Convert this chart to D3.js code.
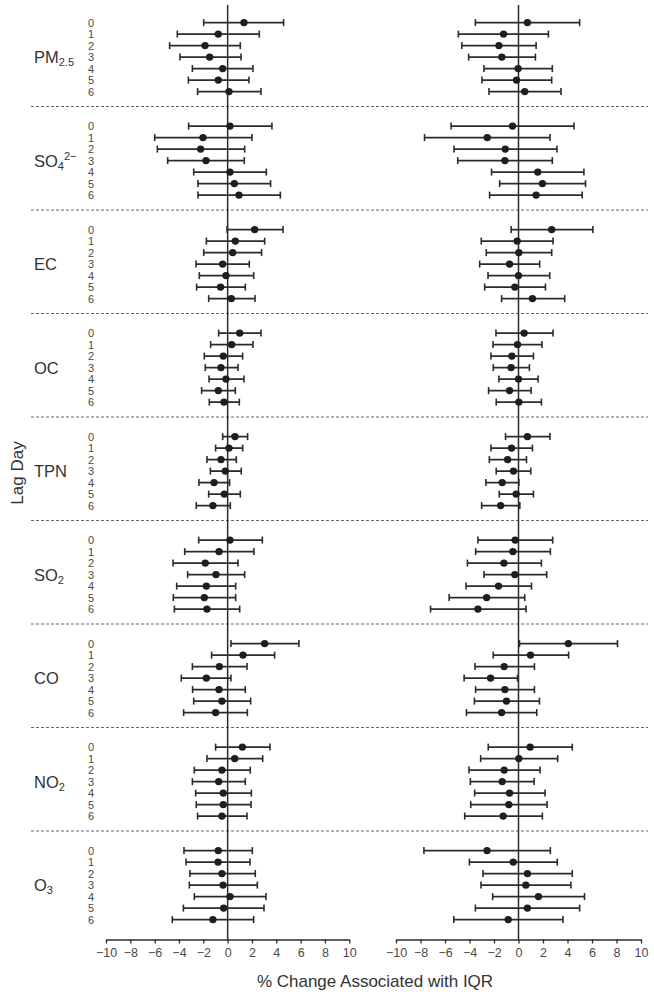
<!DOCTYPE html>
<html>
<head>
<meta charset="utf-8">
<script src="https://cdn.jsdelivr.net/npm/d3@7"></script>
<style>
  html, body { margin: 0; padding: 0; background: #fff; }
  svg { display: block; font-family: "Liberation Sans", Arial, Helvetica, sans-serif; }
</style>
</head>
<body>
<svg id="chart" width="654" height="996"></svg>
<script>
// ---------------- DATA ----------------
const pollutants = ["PM2.5", "SO4", "EC", "OC", "TPN", "SO2", "CO", "NO2", "O3"];
const lags = [0, 1, 2, 3, 4, 5, 6];
const xTicks = [-10, -8, -6, -4, -2, 0, 2, 4, 6, 8, 10];

// Left panel: [estimate, lower, upper] per lag
const leftPM25 = [[1.34,-1.97,4.60],[-0.77,-4.14,2.60],[-1.86,-4.77,1.04],[-1.48,-3.92,1.10],[-0.41,-2.90,2.08],[-0.77,-3.23,1.75],[0.11,-2.47,2.74]];
const leftSO4  = [[0.19,-3.21,3.64],[-2.03,-6.00,2.00],[-2.22,-5.78,1.40],[-1.78,-4.93,1.37],[0.19,-2.79,3.18],[0.55,-2.44,3.53],[0.93,-2.44,4.33]];
const leftEC   = [[2.22,-0.05,4.55],[0.63,-1.75,3.04],[0.41,-1.97,2.79],[-0.41,-2.60,1.78],[-0.14,-2.33,2.14],[-0.58,-2.55,1.45],[0.30,-1.56,2.25]];
const leftOC   = [[0.99,-0.74,2.74],[0.33,-1.40,2.08],[-0.36,-1.92,1.23],[-0.55,-1.84,0.85],[-0.14,-1.53,1.34],[-0.77,-2.14,0.63],[-0.30,-1.51,0.96]];
const leftTPN  = [[0.60,-0.41,1.64],[0.11,-0.99,1.23],[-0.55,-1.70,0.71],[-0.19,-1.42,1.12],[-1.12,-2.36,0.16],[-0.27,-1.56,1.04],[-1.21,-2.58,0.22]];
const leftSO2  = [[0.19,-2.38,2.85],[-0.71,-3.53,2.16],[-1.84,-4.49,0.85],[-0.96,-3.29,1.40],[-1.75,-4.19,0.66],[-1.92,-4.47,0.66],[-1.70,-4.38,0.99]];
const leftCO   = [[3.04,0.27,5.86],[1.26,-1.32,3.86],[-0.68,-2.90,1.59],[-1.75,-3.81,0.27],[-0.71,-2.88,1.45],[-0.47,-2.79,1.89],[-0.99,-3.62,1.62]];
const leftNO2  = [[1.21,-0.99,3.48],[0.58,-1.70,2.88],[-0.47,-2.74,1.86],[-0.74,-2.90,1.45],[-0.36,-2.63,1.95],[-0.36,-2.58,1.92],[-0.47,-2.47,1.59]];
const leftO3   = [[-0.77,-3.59,2.03],[-0.79,-3.42,1.84],[-0.47,-3.10,2.27],[-0.38,-3.15,2.44],[0.19,-2.74,3.15],[-0.33,-3.64,2.99],[-1.21,-4.55,2.14]];

// Right panel
const rightPM25 = [[0.73,-3.52,4.99],[-1.22,-4.91,2.44],[-1.60,-4.63,1.44],[-1.36,-4.07,1.38],[-0.03,-2.82,2.76],[-0.16,-2.98,2.71],[0.51,-2.41,3.47]];
const rightSO4  = [[-0.49,-5.50,4.53],[-2.55,-7.67,2.57],[-1.08,-5.26,3.14],[-1.11,-4.96,2.76],[1.57,-2.20,5.34],[1.95,-1.54,5.47],[1.44,-2.36,5.20]];
const rightEC   = [[2.71,-0.60,6.07],[-0.11,-3.04,2.82],[0.03,-2.63,2.71],[-0.73,-3.17,1.73],[0.00,-2.49,2.55],[-0.30,-2.76,2.20],[1.14,-1.38,3.77]];
const rightOC   = [[0.46,-1.84,2.82],[-0.08,-2.08,1.92],[-0.54,-2.25,1.22],[-0.60,-2.06,0.89],[0.00,-1.60,1.60],[-0.73,-2.44,1.03],[0.03,-1.82,1.87]];
const rightTPN  = [[0.73,-1.06,2.57],[-0.57,-2.25,1.14],[-0.89,-2.38,0.65],[-0.41,-1.82,1.00],[-1.33,-2.66,0.03],[-0.19,-1.57,1.22],[-1.46,-3.01,0.11]];
const rightSO2  = [[-0.27,-3.31,2.79],[-0.46,-3.50,2.60],[-1.19,-4.17,1.87],[-0.30,-2.82,2.30],[-1.63,-4.28,1.06],[-2.60,-5.66,0.51],[-3.31,-7.18,0.62]];
const rightCO   = [[4.07,0.08,8.08],[0.98,-2.06,4.09],[-1.17,-3.55,1.30],[-2.28,-4.44,-0.08],[-1.11,-3.50,1.30],[-0.98,-3.60,1.71],[-1.38,-4.25,1.49]];
const rightNO2  = [[0.95,-2.47,4.39],[0.03,-3.09,3.20],[-1.17,-4.04,1.76],[-1.33,-3.93,1.27],[-0.73,-3.58,2.17],[-0.79,-3.90,2.33],[-1.25,-4.39,1.95]];
const rightO3   = [[-2.57,-7.72,2.60],[-0.43,-4.01,3.17],[0.73,-2.90,4.39],[0.60,-3.06,4.28],[1.63,-2.11,5.39],[0.73,-3.52,4.99],[-0.84,-5.28,3.63]];

const leftSeries  = [leftPM25, leftSO4, leftEC, leftOC, leftTPN, leftSO2, leftCO, leftNO2, leftO3];
const rightSeries = [rightPM25, rightSO4, rightEC, rightOC, rightTPN, rightSO2, rightCO, rightNO2, rightO3];

// ---------------- LAYOUT ----------------
const svg = d3.select("#chart");
const ink = "#2b2b2b";
const grey = "#4a4a4a";

const rowsPerGroup = 9; // 7 lags + 2 spacer rows
const y = d3.scaleLinear().domain([0, 1]).range([22.6, 34.1]); // one row step
const xLeft  = d3.scaleLinear().domain([-10, 10]).range([106, 349.3]);
const xRight = d3.scaleLinear().domain([-10, 10]).range([396, 641]);
const axisY = 939.5;

// dashed separators
const seps = d3.range(pollutants.length - 1);
svg.append("g").selectAll("line").data(seps).join("line")
  .attr("x1", 31).attr("x2", 648)
  .attr("y1", d => y(d * rowsPerGroup + 7.3))
  .attr("y2", d => y(d * rowsPerGroup + 7.3))
  .attr("stroke", "#666").attr("stroke-width", 1.1)
  .attr("stroke-dasharray", "3,2");

// group labels
const labelG = svg.append("g").attr("fill", "#333").attr("font-size", 16.5);
pollutants.forEach((p, i) => {
  const t = labelG.append("text").attr("x", 34).attr("y", y(i * rowsPerGroup + 3) + 6);
  if (p === "PM2.5") {
    t.append("tspan").text("PM");
    t.append("tspan").attr("font-size", 11).attr("dy", 3).text("2.5");
  } else if (p === "SO4") {
    t.append("tspan").text("SO");
    t.append("tspan").attr("font-size", 11).attr("dy", 3).text("4");
    t.append("tspan").attr("font-size", 11).attr("dy", -10).text("2−");
  } else if (p === "SO2" || p === "NO2" || p === "O3") {
    t.append("tspan").text(p.slice(0, -1));
    t.append("tspan").attr("font-size", 11).attr("dy", 3).text(p.slice(-1));
  } else {
    t.text(p);
  }
});

// lag labels
const lagG = svg.append("g").attr("fill", grey).attr("font-size", 11).attr("text-anchor", "middle");
pollutants.forEach((p, i) => {
  lagG.selectAll(null).data(lags).join("text")
    .attr("x", 91)
    .attr("y", d => y(i * rowsPerGroup + d))
    .attr("dy", "0.36em")
    .text(d => d);
});

// axis title & y title
svg.append("text").attr("x", 375).attr("y", 987).attr("text-anchor", "middle")
  .attr("font-size", 17).attr("fill", "#333").text("% Change Associated with IQR");
svg.append("text").attr("transform", "translate(23,473) rotate(-90)")
  .attr("text-anchor", "middle").attr("font-size", 17).attr("fill", "#333").text("Lag Day");

function drawPanel(x, series) {
  const g = svg.append("g");
  // zero reference line
  g.append("line").attr("x1", x(0)).attr("x2", x(0)).attr("y1", 5).attr("y2", axisY)
    .attr("stroke", ink).attr("stroke-width", 1.5);

  // axis
  const ax = g.append("g").attr("transform", `translate(0,${axisY})`)
    .call(d3.axisBottom(x).tickValues(xTicks).tickSize(4).tickSizeOuter(0).tickPadding(5));
  ax.select(".domain").attr("stroke", ink).attr("stroke-width", 1.3);
  ax.selectAll(".tick line").attr("stroke", ink).attr("stroke-width", 1.3);
  ax.selectAll(".tick text").attr("fill", grey).attr("font-size", 12.5)
    .attr("font-family", "Liberation Sans, Arial, sans-serif");

  series.forEach((rows, gi) => {
    rows.forEach((r, li) => {
      const cy = y(gi * rowsPerGroup + li);
      const [est, lo, hi] = r;
      g.append("line").attr("x1", x(lo)).attr("x2", x(hi)).attr("y1", cy).attr("y2", cy)
        .attr("stroke", ink).attr("stroke-width", 1.8);
      [lo, hi].forEach(v => g.append("line").attr("x1", x(v)).attr("x2", x(v))
        .attr("y1", cy - 3.5).attr("y2", cy + 3.5).attr("stroke", ink).attr("stroke-width", 1.6));
      g.append("circle").attr("cx", x(est)).attr("cy", cy).attr("r", 3.7).attr("fill", "#1e1e1e");
    });
  });
}

drawPanel(xLeft, leftSeries);
drawPanel(xRight, rightSeries);
</script>
</body>
</html>
